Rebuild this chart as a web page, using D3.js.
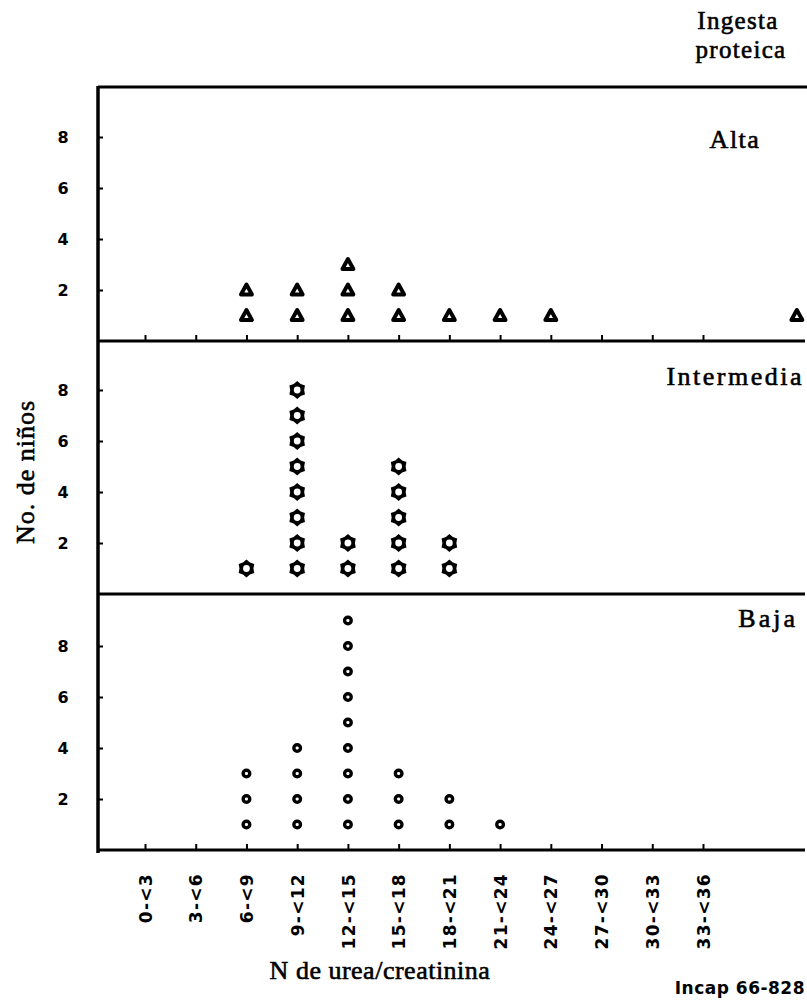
<!DOCTYPE html>
<html lang="es">
  <head>
    <meta charset="UTF-8" />
    <title>N de urea/creatinina</title>
    <script src="https://cdn.jsdelivr.net/npm/d3@7"></script>
    <style>
      body { margin: 0; background: #fff; }
      .serif { font-family: 'Liberation Serif', serif; fill: #000; stroke: #000; stroke-width: 0.6px; }
      .sans { font-family: 'DejaVu Sans', sans-serif; font-weight: bold; fill: #000; }
    </style>
  </head>
  <body>
    <div class="chart"></div>
    <script>
      // categorías del eje x (N de urea/creatinina)
      var categories = ['0-<3', '3-<6', '6-<9', '9-<12', '12-<15', '15-<18', '18-<21', '21-<24', '24-<27', '27-<30', '30-<33', '33-<36']
      // número de niños por categoría
      var altaCounts = [0, 0, 2, 2, 3, 2, 1, 1, 1, 0, 0, 0]
      var intermediaCounts = [0, 0, 1, 8, 2, 5, 2, 0, 0, 0, 0, 0]
      var bajaCounts = [0, 0, 3, 4, 9, 3, 2, 1, 0, 0, 0, 0]
      // valor aislado de Alta, fuera de la escala (a la derecha)
      var altaOutlierPos = [12.85]
      var altaOutlierCount = [1]
      var yTicks = [2, 4, 6, 8]

      var W = 807, H = 1008
      var left = 98, right = 807

      var svg = d3.select('.chart').append('svg').attr('width', W).attr('height', H)

      var x = d3.scaleLinear().domain([0, categories.length - 1]).range([145, 703])

      var panels = [
        { name: 'Alta', counts: altaCounts, top: 87, bottom: 341, shape: 'tri', xticks: true, labelX: 735, anchor: 'middle', labelY: 61, spacing: 1.5 },
        { name: 'Intermedia', counts: intermediaCounts, top: 341, bottom: 594, shape: 'star', xticks: false, labelX: 804, anchor: 'end', labelY: 44, spacing: 2.5 },
        { name: 'Baja', counts: bajaCounts, top: 594, bottom: 850, shape: 'circ', xticks: true, labelX: 798, anchor: 'end', labelY: 33, spacing: 3 }
      ]

      function toPoints(counts, positions) {
        var pts = []
        counts.forEach(function (c, i) {
          for (var k = 1; k <= c; k++) pts.push({ pos: positions ? positions[i] : i, n: k })
        })
        return pts
      }

      // estrella de seis puntas
      function starPath(R, r) {
        var p = []
        for (var i = 0; i < 12; i++) {
          var a = (Math.PI / 6) * i - Math.PI / 2
          var rr = i % 2 === 0 ? R : r
          p.push([Math.cos(a) * rr, Math.sin(a) * rr])
        }
        return 'M' + p.join('L') + 'Z'
      }

      panels.forEach(function (p, pi) {
        var y = d3.scaleLinear().domain([0, 1]).range([p.bottom, p.bottom - 25.5])
        var g = svg.append('g')

        // eje y
        g.append('g')
          .attr('transform', 'translate(' + left + ',0)')
          .call(d3.axisLeft(y).tickValues(yTicks).tickSize(-5).tickFormat(''))
          .call(function (s) { s.select('.domain').remove() })
          .selectAll('line').attr('stroke', '#000').attr('stroke-width', 2)

        g.selectAll('.ylab').data(yTicks).enter().append('text')
          .attr('class', 'sans')
          .attr('x', 63)
          .attr('y', function (d) { return y(d) })
          .attr('dy', '0.36em')
          .attr('text-anchor', 'middle')
          .style('font-size', '16px')
          .text(function (d) { return d })

        // eje x
        if (p.xticks) {
          var ax = g.append('g')
            .attr('transform', 'translate(0,' + p.bottom + ')')
            .call(d3.axisBottom(x).tickValues(d3.range(categories.length)).tickSize(-6)
              .tickFormat(function (d) { return pi === 2 ? categories[d] : '' }))
          ax.attr('font-size', null).attr('font-family', null)
          ax.select('.domain').remove()
          ax.selectAll('line').attr('stroke', '#000').attr('stroke-width', 2)
          ax.selectAll('text')
            .attr('class', 'sans')
            .attr('transform', 'rotate(-90)')
            .attr('x', -23)
            .attr('y', 0)
            .attr('dy', '0.36em')
            .attr('text-anchor', 'end')
            .style('font-size', '17px')
            .style('letter-spacing', '1.3px')
        }

        // línea inferior del panel
        g.append('line')
          .attr('x1', left).attr('x2', right - 2)
          .attr('y1', p.bottom).attr('y2', p.bottom)
          .attr('stroke', '#000').attr('stroke-width', 3)

        var pts = toPoints(p.counts)
        if (pi === 0) pts = pts.concat(toPoints(altaOutlierCount, altaOutlierPos))

        var m = g.selectAll('.mark').data(pts).enter().append('g')
          .attr('transform', function (d) { return 'translate(' + x(d.pos) + ',' + y(d.n) + ')' })

        if (p.shape === 'tri') {
          m.append('path')
            .attr('d', 'M0,-5.5L5.5,4.5L-5.5,4.5Z')
            .attr('fill', '#fff').attr('stroke', '#000').attr('stroke-width', 3.9)
            .attr('stroke-linejoin', 'round')
        } else if (p.shape === 'star') {
          m.append('path').attr('d', starPath(9, 7)).attr('fill', '#000')
          m.append('circle').attr('r', 3.4).attr('fill', '#fff')
        } else {
          m.append('circle').attr('r', 3.3)
            .attr('fill', '#fff').attr('stroke', '#000').attr('stroke-width', 3.4)
        }

        // nombre del panel
        g.append('text')
          .attr('class', 'serif')
          .attr('x', p.labelX)
          .attr('y', p.top + p.labelY)
          .attr('text-anchor', p.anchor)
          .style('font-size', '26px')
          .style('letter-spacing', p.spacing + 'px')
          .text(p.name)
      })

      // borde superior y eje izquierdo
      svg.append('line')
        .attr('x1', left).attr('x2', right)
        .attr('y1', 87).attr('y2', 87)
        .attr('stroke', '#000').attr('stroke-width', 3)
      svg.append('line')
        .attr('x1', left).attr('x2', left)
        .attr('y1', 86).attr('y2', 853)
        .attr('stroke', '#000').attr('stroke-width', 3.5)

      // títulos
      svg.append('text').attr('class', 'serif')
        .attr('x', 738).attr('y', 29).attr('text-anchor', 'middle')
        .style('font-size', '25px').style('letter-spacing', '1.3px')
        .text('Ingesta')
      svg.append('text').attr('class', 'serif')
        .attr('x', 741).attr('y', 58).attr('text-anchor', 'middle')
        .style('font-size', '25px').style('letter-spacing', '1.3px')
        .text('proteica')

      svg.append('text').attr('class', 'serif')
        .attr('transform', 'translate(34,472) rotate(-90)')
        .attr('text-anchor', 'middle')
        .style('font-size', '26px').style('letter-spacing', '1px')
        .text('No. de niños')

      svg.append('text').attr('class', 'serif')
        .attr('x', 380).attr('y', 979).attr('text-anchor', 'middle')
        .style('font-size', '26px').style('letter-spacing', '0.5px')
        .text('N de urea/creatinina')

      svg.append('text').attr('class', 'sans')
        .attr('x', 805).attr('y', 994).attr('text-anchor', 'end')
        .style('font-size', '17px').style('letter-spacing', '0.5px')
        .text('Incap 66-828')
    </script>
  </body>
</html>
